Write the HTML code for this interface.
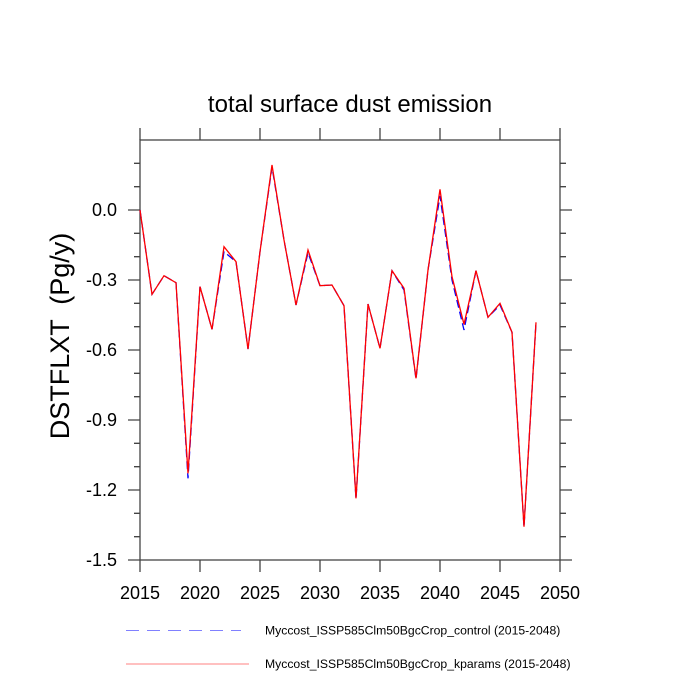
<!DOCTYPE html>
<html><head><style>body{margin:0;background:#fff}svg{display:block}text{font-family:"Liberation Sans",sans-serif}</style></head>
<body>
<svg width="700" height="700" viewBox="0 0 700 700" xmlns="http://www.w3.org/2000/svg">
<text x="350" y="112" font-size="24" text-anchor="middle">total surface dust emission</text>
<g stroke="#444" stroke-width="1.3" fill="none">
<rect x="140" y="140" width="420" height="420"/>
<path d="M140 140v-12M200 140v-12M260 140v-12M320 140v-12M380 140v-12M440 140v-12M500 140v-12M560 140v-12
M140 560v12M200 560v12M260 560v12M320 560v12M380 560v12M440 560v12M500 560v12M560 560v12
M140 210h-12M140 280h-12M140 350h-12M140 420h-12M140 490h-12M140 560h-12
M560 210h12M560 280h12M560 350h12M560 420h12M560 490h12M560 560h12
M140 163.3h-6M140 186.7h-6M140 233.3h-6M140 256.7h-6M140 303.3h-6M140 326.7h-6M140 373.3h-6M140 396.7h-6M140 443.3h-6M140 466.7h-6M140 513.3h-6M140 536.7h-6
M560 163.3h6M560 186.7h6M560 233.3h6M560 256.7h6M560 303.3h6M560 326.7h6M560 373.3h6M560 396.7h6M560 443.3h6M560 466.7h6M560 513.3h6M560 536.7h6"/>
</g>
<g font-size="18" text-anchor="end">
<text x="117" y="216">0.0</text><text x="117" y="286">-0.3</text><text x="117" y="356">-0.6</text>
<text x="117" y="426">-0.9</text><text x="117" y="496">-1.2</text><text x="117" y="566">-1.5</text>
</g>
<g font-size="18" text-anchor="middle">
<text x="140" y="599">2015</text><text x="200" y="599">2020</text><text x="260" y="599">2025</text><text x="320" y="599">2030</text>
<text x="380" y="599">2035</text><text x="440" y="599">2040</text><text x="500" y="599">2045</text><text x="560" y="599">2050</text>
</g>
<text transform="translate(69 336) rotate(-90)" font-size="27" text-anchor="middle" xml:space="preserve">DSTFLXT  (Pg/y)</text>
<polyline fill="none" stroke="#0000ff" stroke-width="1.3" stroke-dasharray="8 4" points="140,210 152,294.3 164,275.7 176,282.7 188,478.3 200,286.7 212,329.3 224,251.7 236,261.7 248,349 260,251.7 272,167 284,240 296,305 308,252.7 320,285.7 332,285 344,305.7 356,499 368,304 380,348.3 392,270.7 404,290 416,379 428,270 440,196 452,280 464,330 476,270.7 488,317.3 500,305 512,332.3 524,527 536,322.3"/>
<polyline fill="none" stroke="#ff0000" stroke-width="1.3" points="140,210 152,294.3 164,275.7 176,282.7 188,473.3 200,286.7 212,329.3 224,246.7 236,261.7 248,349 260,251.7 272,165 284,240 296,305 308,250 320,285.7 332,285 344,305.7 356,498.3 368,304 380,348.3 392,270.7 404,288.3 416,378.3 428,270 440,189.3 452,276.7 464,324.3 476,270.7 488,317.3 500,303.3 512,332.3 524,526.7 536,322.3"/>
<line x1="126" y1="630.5" x2="241" y2="630.5" stroke="#8080ff" stroke-width="1" stroke-dasharray="13 8"/>
<line x1="126" y1="664" x2="249" y2="664" stroke="#ff8080" stroke-width="1"/>
<text x="265" y="634.5" font-size="12.2">Myccost_ISSP585Clm50BgcCrop_control (2015-2048)</text>
<text x="265" y="668" font-size="12.2">Myccost_ISSP585Clm50BgcCrop_kparams (2015-2048)</text>
</svg>
</body></html>
